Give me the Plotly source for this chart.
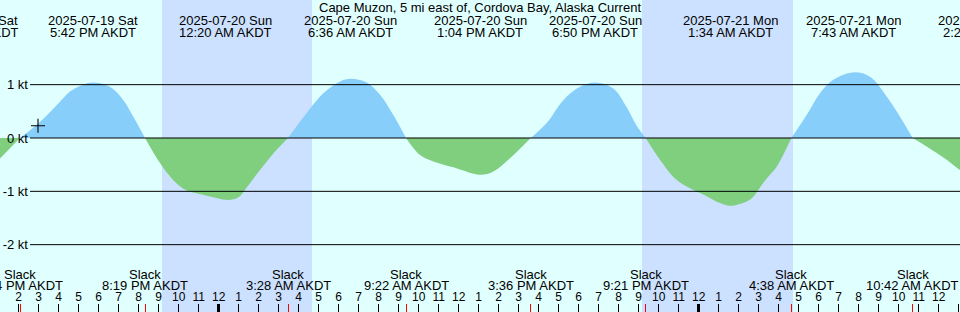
import pandas as pd
import plotly.graph_objects as go

TITLE = "Cape Muzon, 5 mi east of, Cordova Bay, Alaska Current"

# Current speed (kt), flood positive / ebb negative
curve_times = [
    "2025-07-19 13:00", "2025-07-19 14:04", "2025-07-19 15:04", "2025-07-19 16:04",
    "2025-07-19 16:34", "2025-07-19 17:09", "2025-07-19 17:42", "2025-07-19 18:34",
    "2025-07-19 19:14", "2025-07-19 19:44", "2025-07-19 20:19", "2025-07-19 21:04",
    "2025-07-19 21:44", "2025-07-19 22:23", "2025-07-19 23:04", "2025-07-19 23:44",
    "2025-07-20 00:20", "2025-07-20 00:43", "2025-07-20 01:04", "2025-07-20 01:24",
    "2025-07-20 02:04", "2025-07-20 02:44",
    "2025-07-20 03:28", "2025-07-20 04:23", "2025-07-20 05:14", "2025-07-20 06:04",
    "2025-07-20 06:36", "2025-07-20 07:24", "2025-07-20 08:04", "2025-07-20 08:44",
    "2025-07-20 09:22", "2025-07-20 10:04", "2025-07-20 10:44", "2025-07-20 11:44",
    "2025-07-20 13:04", "2025-07-20 13:44", "2025-07-20 14:34", "2025-07-20 15:36",
    "2025-07-20 16:24", "2025-07-20 17:14", "2025-07-20 18:04", "2025-07-20 18:50",
    "2025-07-20 19:44", "2025-07-20 20:23", "2025-07-20 20:53", "2025-07-20 21:21",
    "2025-07-20 22:04", "2025-07-20 22:44", "2025-07-20 23:24", "2025-07-21 00:24",
    "2025-07-21 01:04", "2025-07-21 01:34", "2025-07-21 02:24", "2025-07-21 02:44",
    "2025-07-21 03:13", "2025-07-21 03:34", "2025-07-21 03:54", "2025-07-21 04:38",
    "2025-07-21 05:24", "2025-07-21 06:04", "2025-07-21 06:44", "2025-07-21 07:43",
    "2025-07-21 08:34", "2025-07-21 09:24", "2025-07-21 10:04", "2025-07-21 10:42",
    "2025-07-21 11:24", "2025-07-21 12:24", "2025-07-21 13:04", "2025-07-21 13:30",
]
curve_speeds = [
    -0.41, 0.0, 0.30, 0.68,
    0.87, 0.99, 1.04, 0.96,
    0.71, 0.40, 0.0, -0.47,
    -0.79, -0.98, -1.05, -1.11,
    -1.16, -1.15, -1.09, -0.93,
    -0.60, -0.29,
    0.0, 0.46, 0.84, 1.06,
    1.11, 1.04, 0.81, 0.43,
    0.0, -0.32, -0.44, -0.55,
    -0.69, -0.63, -0.38, 0.0,
    0.28, 0.71, 0.96, 1.04,
    0.93, 0.59, 0.24, 0.0,
    -0.41, -0.73, -0.91, -1.09,
    -1.22, -1.27, -1.19, -1.10,
    -0.85, -0.69, -0.54, 0.0,
    0.43, 0.84, 1.09, 1.23,
    1.15, 0.78, 0.40, 0.0,
    -0.16, -0.41, -0.60, -0.68,
]

# Max flood / max ebb events (top labels)
event_times = [
    "2025-07-19 11:42", "2025-07-19 17:42", "2025-07-20 00:20", "2025-07-20 06:36",
    "2025-07-20 13:04", "2025-07-20 18:50", "2025-07-21 01:34", "2025-07-21 07:43",
    "2025-07-21 14:21",
]
# Slack water events (bottom labels, red ticks)
slack_times = [
    "2025-07-19 14:04", "2025-07-19 20:19", "2025-07-20 03:28", "2025-07-20 09:22",
    "2025-07-20 15:36", "2025-07-20 21:21", "2025-07-21 04:38", "2025-07-21 10:42",
]
night_starts = ["2025-07-19 21:10", "2025-07-20 21:10"]
night_ends = ["2025-07-20 04:40", "2025-07-21 04:43"]

speed_ticks = [1, 0, -1, -2]
speed_tick_labels = ["1 kt", "0 kt", "-1 kt", "-2 kt"]

now_time = "2025-07-19 14:58"
now_speed = 0.23

x_start = "2025-07-19 13:04"
x_end = "2025-07-21 13:04"

# ---------------------------------------------------------------
W, H = 960, 312
FONT = "Liberation Sans, Arial, sans-serif"
DAY = "#E0FFFF"
NIGHT = "#CCE0FF"
FLOOD = "#87CEFA"
EBB = "#7FCF7F"

zero_px = 138.0
px_per_kt = 53.33
y_max = zero_px / px_per_kt
y_min = -(H - zero_px) / px_per_kt

t_lo, t_hi = pd.Timestamp(x_start), pd.Timestamp(x_end)


def ypaper(px):
    return 1 - px / H


def fmt_time(ts):
    h = ts.hour % 12 or 12
    ap = "AM" if ts.hour < 12 else "PM"
    return f"{h}:{ts.minute:02d} {ap} AKDT"


def label(text, t, py):
    # text sits at the arrow tail (time t on the x axis); the invisible arrow
    # head is kept inside the axis range so labels near the edges still show
    head = min(max(t, t_lo), t_hi)
    return dict(text=text, xref="x", yref="paper", x=head, y=ypaper(py),
                axref="x", ax=t, ayref="pixel", ay=0,
                showarrow=True, arrowcolor="rgba(0,0,0,0)", arrowwidth=0.1,
                xanchor="center", yanchor="middle", height=12, valign="middle",
                font=dict(size=13, color="black", family=FONT))


fig = go.Figure()

# split the curve into flood / ebb lobes at slack points
times = pd.to_datetime(curve_times)
lobes = []
cur_t, cur_v = [], []
for t, v in zip(times, curve_speeds):
    cur_t.append(t)
    cur_v.append(v)
    if v == 0 and len(cur_t) > 1:
        lobes.append((cur_t, cur_v))
        cur_t, cur_v = [t], [v]
if len(cur_t) > 1:
    lobes.append((cur_t, cur_v))

for lt, lv in lobes:
    sign = max(lv, key=abs)
    fig.add_trace(go.Scatter(
        x=lt, y=lv, mode="lines", fill="tozeroy",
        fillcolor=FLOOD if sign > 0 else EBB,
        line=dict(width=0, shape="spline", smoothing=1.0),
        hoverinfo="skip", showlegend=False,
    ))

fig.add_trace(go.Scatter(
    x=[now_time], y=[now_speed], mode="markers",
    marker=dict(symbol="cross-thin", size=10, line=dict(width=1.1, color="black")),
    hoverinfo="skip", showlegend=False,
))

hour_ticks = pd.date_range("2025-07-19 13:00", "2025-07-21 14:00", freq="h")
hour_labels = [str(t.hour % 12 or 12) for t in hour_ticks]
midnights = [t for t in hour_ticks if t.hour == 0]

for ax, xs in (("x2", hour_ticks), ("x3", midnights), ("x4", pd.to_datetime(slack_times))):
    fig.add_trace(go.Scatter(x=list(xs), y=[None] * len(xs), xaxis=ax, mode="markers",
                             hoverinfo="skip", showlegend=False))

# night shading
shapes = []
for s, e in zip(night_starts, night_ends):
    shapes.append(dict(type="rect", xref="x", yref="paper", x0=s, x1=e, y0=0, y1=1,
                       fillcolor=NIGHT, line=dict(width=0), layer="below"))
# horizontal reference lines
for v in speed_ticks:
    shapes.append(dict(type="line", xref="paper", yref="y", x0=30 / W, x1=1, y0=v, y1=v,
                       line=dict(color="black", width=1), layer="above"))

annotations = [dict(text=TITLE, xref="paper", yref="paper", x=0.5, y=ypaper(7.5),
                    xanchor="center", yanchor="middle", showarrow=False,
                    font=dict(size=13, color="black", family=FONT))]
for t in pd.to_datetime(event_times):
    annotations.append(label(t.strftime("%Y-%m-%d %a"), t, 20))
    annotations.append(label(fmt_time(t), t, 32))
for t in pd.to_datetime(slack_times):
    annotations.append(label("Slack", t, 274))
    annotations.append(label(fmt_time(t), t, 285))

common_x = dict(type="date", range=[x_start, x_end], showgrid=False, zeroline=False,
                showline=False, fixedrange=True)
tick_pos = 9 / H

fig.update_layout(
    width=W, height=H,
    margin=dict(l=0, r=0, t=0, b=0, pad=0),
    paper_bgcolor=DAY, plot_bgcolor="rgba(0,0,0,0)",
    showlegend=False, hovermode=False,
    font=dict(family=FONT, size=13, color="black"),
    xaxis=dict(**common_x, visible=False),
    xaxis2=dict(**common_x, overlaying="x", anchor="free", position=tick_pos, side="top",
                tickmode="array", tickvals=list(hour_ticks), ticktext=hour_labels,
                ticks="inside", ticklen=9, tickwidth=1, tickcolor="black",
                tickfont=dict(size=12, color="black", family=FONT)),
    xaxis3=dict(**common_x, overlaying="x", anchor="free", position=tick_pos, side="top",
                tickmode="array", tickvals=midnights, showticklabels=False,
                ticks="inside", ticklen=9, tickwidth=3, tickcolor="black"),
    xaxis4=dict(**common_x, overlaying="x", anchor="free", position=tick_pos, side="top",
                tickmode="array", tickvals=list(pd.to_datetime(slack_times)), showticklabels=False,
                ticks="inside", ticklen=9, tickwidth=1, tickcolor="red"),
    yaxis=dict(range=[y_min, y_max], anchor="free", position=28 / W, side="left",
               tickmode="array", tickvals=speed_ticks, ticktext=speed_tick_labels,
               ticks="", showgrid=False, zeroline=False, showline=False, fixedrange=True,
               tickfont=dict(size=13, color="black", family=FONT)),
    shapes=shapes,
    annotations=annotations,
)

fig.write_html("out.html", config={"displayModeBar": False, "staticPlot": True})
